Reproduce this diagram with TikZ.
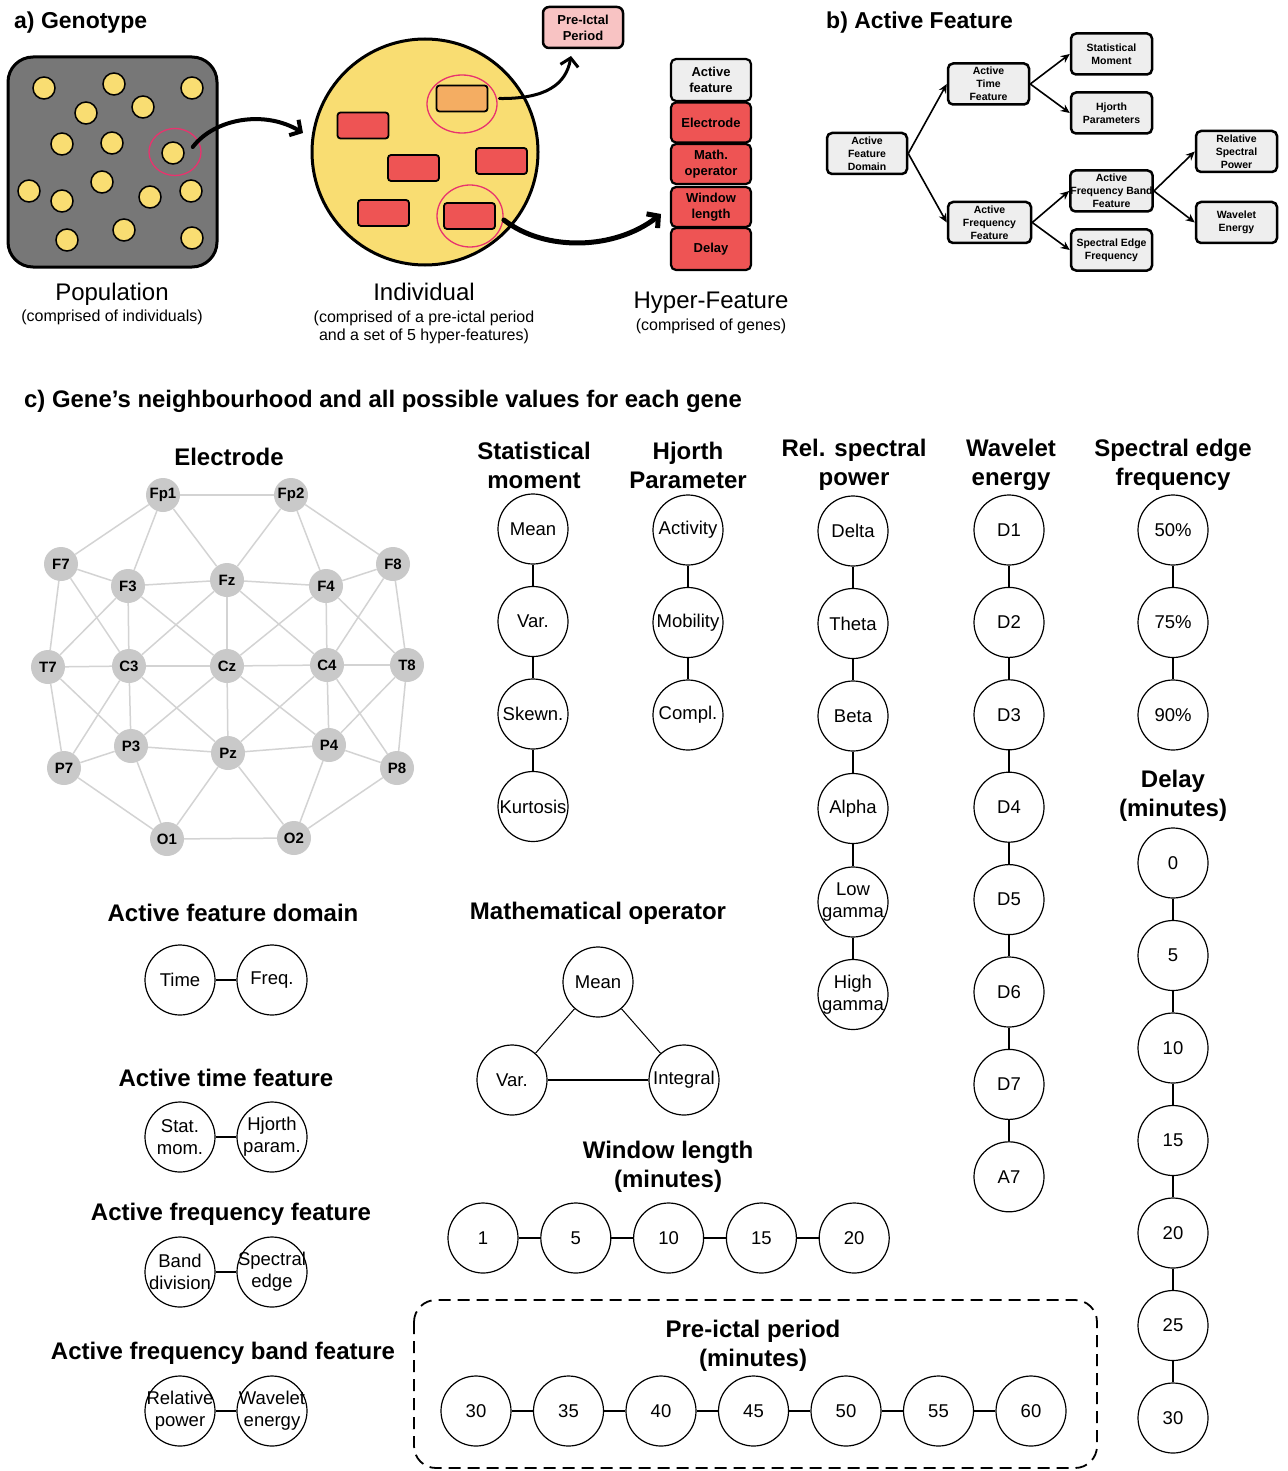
\documentclass[tikz,border=0pt]{standalone}
\usepackage{fontspec}
\setmainfont{Liberation Sans}
\usetikzlibrary{arrows.meta,shapes.geometric}
\definecolor{popgray}{HTML}{777777}
\definecolor{yel}{HTML}{F9DD72}
\definecolor{redbox}{HTML}{EE5454}
\definecolor{orbox}{HTML}{F4AD62}
\definecolor{ringc}{HTML}{E8336E}
\definecolor{pinkbox}{HTML}{F8C3C3}
\definecolor{lgray}{HTML}{EEEEEE}
\definecolor{egray}{HTML}{C9C9C9}
\definecolor{eline}{HTML}{D3D3D3}
\newcommand{\zw}[1]{\makebox[0pt]{#1}}
\begin{document}
\begin{tikzpicture}[x=1pt,y=-1pt,
  ttl/.style={font=\bfseries\fontsize{23}{28}\selectfont, anchor=west, inner sep=0pt},
  bigl/.style={font=\fontsize{24}{28}\selectfont, inner sep=0pt},
  smalll/.style={font=\fontsize{16}{18}\selectfont, inner sep=0pt, align=center},
  dot/.style={circle, draw, line width=1.5pt, fill=yel, minimum size=22pt, inner sep=0pt},
  rbox/.style={draw, line width=1.8pt, fill=redbox, rounded corners=3pt, minimum width=51pt, minimum height=26pt, inner sep=0pt},
  ringl/.style={ellipse, draw=ringc, line width=1.3pt, inner sep=0pt},
  hf/.style={draw, line width=2.2pt, fill=redbox, rounded corners=5pt, minimum width=80pt, minimum height=40pt, inner sep=0pt, align=center, font=\bfseries\fontsize{13}{16}\selectfont},
  fb/.style={draw, line width=2.5pt, fill=lgray, rounded corners=5pt, minimum width=81pt, minimum height=41pt, inner sep=0pt, align=center, font=\bfseries\fontsize{10.5}{13}\selectfont},
  farr/.style={line width=1.6pt, -{Stealth[length=9pt,width=8pt]}},
  bigarr/.style={line cap=round, -{Straight Barb[length=8pt,width=18pt]}},
  elec/.style={circle, fill=egray, minimum size=34pt, inner sep=0pt, font=\bfseries\fontsize{15}{15}\selectfont},
  eedge/.style={draw=eline, line width=1.5pt},
  val/.style={circle, draw, line width=1.2pt, minimum size=70pt, inner sep=0pt, align=center, font=\fontsize{18.5}{22}\selectfont},
  lk/.style={line width=2pt},
  hd/.style={font=\bfseries\fontsize{24}{29}\selectfont, align=center, inner sep=0pt}
]
\useasboundingbox (0,0) rectangle (1287,1471);

% ---------------- a) Genotype
\node[ttl] (ta) at (14,23) {a) Genotype};
\node[draw, line width=3pt, fill=popgray, rounded corners=25pt, minimum width=209pt, minimum height=210pt, inner sep=0pt] (pop) at (112.5,162) {};
\foreach \x/\y [count=\i] in {44/88,114/84,192/88,86/113,143/107,62/144,112/143,102/182,29/191,62/201,150/197,191/191,67/240,124/230,192/238}
  \node[dot] (d\i) at (\x,\y) {};
\node[dot] (sel) at (173,153) {};
\node[ringl, minimum width=52pt, minimum height=47pt] (ringP) at (175,152) {};
\node[bigl] (poplab) at (112,294) {Population};
\node[smalll] (popsub) at (112,317) {(comprised of individuals)};

\node[circle, draw, line width=3pt, fill=yel, minimum size=226pt, inner sep=0pt] (ind) at (425,152) {};
\node[rbox, fill=orbox] (rA) at (462,98.5) {};
\node[rbox] (rB) at (363,125.5) {};
\node[rbox] (rC) at (413.5,168) {};
\node[rbox] (rD) at (501.5,161) {};
\node[rbox] (rE) at (383.5,213) {};
\node[rbox] (rF) at (469.5,216) {};
\node[ringl, minimum width=70pt, minimum height=58pt] (ringA) at (462,104) {};
\node[ringl, minimum width=66pt, minimum height=62pt] (ringB) at (470,216) {};
\node[bigl] (indlab) at (424,292) {Individual};
\node[smalll] (indsub) at (424,327) {(comprised of a pre-ictal period\\and a set of 5 hyper-features)};

\node[draw, line width=2.5pt, fill=pinkbox, rounded corners=6pt, minimum width=80pt, minimum height=41pt, inner sep=0pt, align=center, font=\bfseries\fontsize{13}{16}\selectfont] (pre) at (583,27.5) {Pre-Ictal\\Period};

\node[hf, fill=lgray, minimum height=42pt] (hAct) at (711,80) {Active\\feature};
\node[hf] (hEl) at (711,122.5) {Electrode};
\node[hf] (hMa) at (711,164) {Math.\\operator};
\node[hf] (hWi) at (711,207) {Window\\length};
\node[hf, minimum height=42pt] (hDe) at (711,249) {Delay};
\node[bigl] (hflab) at (711,303) {Hyper-Feature};
\node[smalll] (hfsub) at (711,326) {(comprised of genes)};

\coordinate (e1) at (303,133);
\coordinate (e2) at (571,56);
\coordinate (e3) at (661,214);
\draw[bigarr, line width=4pt] ([xshift=8pt,yshift=6pt]sel.east) .. controls (215,118) and (265,110) .. (e1);
\draw[bigarr, line width=3pt] ([xshift=11pt]rA.east) .. controls (545,99) and (566,85) .. (e2);
\draw[bigarr, line width=5pt] ([xshift=8pt,yshift=-4pt]rF.east) .. controls (545,252) and (615,250) .. (e3);

% ---------------- b) Active Feature
\node[ttl] (tb) at (826,23) {b) Active Feature};
\node[fb, minimum width=80pt] (dom) at (867,153.5) {Active\\Feature\\Domain};
\node[fb] (tim) at (988.5,84) {Active\\Time\\Feature};
\node[fb, minimum width=83pt] (fre) at (989.5,222.5) {Active\\Frequency\\Feature};
\node[fb] (stm) at (1111.5,54) {Statistical\\Moment};
\node[fb] (hjp) at (1111.5,113) {Hjorth\\Parameters};
\node[fb] (afb) at (1111.5,191) {Active\\Frequency Band\\Feature};
\node[fb] (sef) at (1111.5,250) {Spectral Edge\\Frequency};
\node[fb] (rsp) at (1236.5,151.5) {Relative\\Spectral\\Power};
\node[fb] (wen) at (1236.5,222.5) {Wavelet\\Energy};
\draw[farr] (dom.east) -- (tim.west);
\draw[farr] (dom.east) -- (fre.west);
\draw[farr] (tim.east) -- (stm.west);
\draw[farr] (tim.east) -- (hjp.west);
\draw[farr] (fre.east) -- (afb.west);
\draw[farr] (fre.east) -- (sef.west);
\draw[farr] (afb.east) -- (rsp.west);
\draw[farr] (afb.east) -- (wen.west);

% ---------------- c)
\node[ttl, font=\bfseries\fontsize{23.9}{28}\selectfont] (tc) at (24,401) {c) Gene’s neighbourhood and all possible values for each gene};

% Electrode graph
\node[hd] (elt) at (229,457) {Electrode};
\foreach \n/\x/\y in {Fp1/163/495,Fp2/291/495,F7/61/564,F3/128/586,Fz/227/580,F4/326/586,F8/393/564,T7/48/667,C3/129/666,Cz/227/666,C4/327/665,T8/407/665,P3/131/746,Pz/228/753,P4/329/745,P7/64/768,P8/397/768,O1/167/839,O2/294/838}
  \node[elec] (e\n) at (\x,\y) {\n};
\foreach \a/\b in {Fp1/Fp2,Fp1/F7,Fp1/F3,Fp1/Fz,Fp2/Fz,Fp2/F4,Fp2/F8,F7/F3,F7/T7,F7/C3,F3/Fz,F3/T7,F3/C3,F3/Cz,Fz/F4,Fz/Cz,Fz/C3,Fz/C4,F4/F8,F4/Cz,F4/C4,F4/T8,F8/C4,F8/T8,T7/C3,T7/P7,T7/P3,C3/Cz,C3/P3,C3/P7,C3/Pz,Cz/C4,Cz/Pz,Cz/P3,Cz/P4,C4/T8,C4/P4,C4/Pz,C4/P8,T8/P4,T8/P8,P3/Pz,P3/P7,P3/O1,Pz/P4,Pz/O1,Pz/O2,P4/P8,P4/O2,P7/O1,P8/O2,O1/O2}
  \draw[eedge] (e\a) -- (e\b);

% Column headings
\node[hd] (hsm) at (534,465) {Statistical\\moment};
\node[hd] (hhj) at (688,465) {Hjorth\\Parameter};
\node[hd] (hrs) at (854,465) {Rel. spectral\\power};
\node[hd] (hwe) at (1011,465) {Wavelet\\energy};
\node[hd] (hse) at (1173,465) {Spectral edge\\frequency};

% Statistical moment
\node[val] (sm1) at (533,529) {Mean};
\node[val] (sm2) at (533,621.5) {Var.};
\node[val] (sm3) at (533,714) {Skewn.};
\node[val] (sm4) at (533,806.5) {\zw{Kurtosis}};
\foreach \i/\j in {1/2,2/3,3/4} \draw[lk] (sm\i) -- (sm\j);

% Hjorth
\node[val] (hj1) at (688,530) {\zw{Activity}};
\node[val] (hj2) at (688,622.5) {\zw{Mobility}};
\node[val] (hj3) at (688,715) {Compl.};
\foreach \i/\j in {1/2,2/3} \draw[lk] (hj\i) -- (hj\j);

% Rel spectral power
\node[val] (rs1) at (853,531) {Delta};
\node[val] (rs2) at (853,623.5) {Theta};
\node[val] (rs3) at (853,716) {Beta};
\node[val] (rs4) at (853,808.5) {Alpha};
\node[val] (rs5) at (853,902) {\zw{Low}\\\zw{gamma}};
\node[val] (rs6) at (853,994.5) {\zw{High}\\\zw{gamma}};
\foreach \i/\j in {1/2,2/3,3/4,4/5,5/6} \draw[lk] (rs\i) -- (rs\j);

% Wavelet energy
\foreach \t [count=\i] in {D1,D2,D3,D4,D5,D6,D7,A7}
  \node[val] (we\i) at (1009,{530+92.4*(\i-1)}) {\t};
\foreach \i/\j in {1/2,2/3,3/4,4/5,5/6,6/7,7/8} \draw[lk] (we\i) -- (we\j);

% Spectral edge
\node[val] (se1) at (1173,530) {50\%};
\node[val] (se2) at (1173,622.5) {75\%};
\node[val] (se3) at (1173,715) {90\%};
\foreach \i/\j in {1/2,2/3} \draw[lk] (se\i) -- (se\j);

% Delay
\node[hd] (hdl) at (1173,796) {Delay\\(minutes)};
\foreach \t [count=\i] in {0,5,10,15,20,25,30}
  \node[val] (dl\i) at (1173,{863+92.5*(\i-1)}) {\t};
\foreach \i/\j in {1/2,2/3,3/4,4/5,5/6,6/7} \draw[lk] (dl\i) -- (dl\j);

% Left-bottom pairs
\node[hd] (hafd) at (233,913) {Active feature domain};
\node[val] (afd1) at (180,980) {Time};
\node[val] (afd2) at (272,980) {Freq.};
\draw[lk] (afd1) -- (afd2);

\node[hd] (hatf) at (226,1078) {Active time feature};
\node[val] (atf1) at (180,1137) {\zw{Stat.}\\\zw{mom.}};
\node[val] (atf2) at (272,1137) {\zw{Hjorth}\\\zw{param.}};
\draw[lk] (atf1) -- (atf2);

\node[hd] (haff) at (231,1214) {Active frequency feature};
\node[val] (aff1) at (180,1272) {\zw{Band}\\\zw{division}};
\node[val] (aff2) at (272,1272) {\zw{Spectral}\\\zw{edge}};
\draw[lk] (aff1) -- (aff2);

\node[hd] (hafb) at (223,1353) {Active frequency band feature};
\node[val] (afbv1) at (180,1411) {\zw{Relative}\\\zw{power}};
\node[val] (afbv2) at (272,1411) {\zw{Wavelet}\\\zw{energy}};
\draw[lk] (afbv1) -- (afbv2);

% Mathematical operator
\node[hd] (hmo) at (598,913) {Mathematical operator};
\node[val] (mo1) at (598,982) {Mean};
\node[val] (mo2) at (512,1080) {Var.};
\node[val] (mo3) at (684,1080) {\zw{Integral}};
\draw[line width=1pt] (mo1) -- (mo2);
\draw[line width=1pt] (mo1) -- (mo3);
\draw[lk] (mo2) -- (mo3);

% Window length
\node[hd] (hwl) at (668,1167) {Window length\\(minutes)};
\foreach \t [count=\i] in {1,5,10,15,20}
  \node[val] (wl\i) at ({483+92.8*(\i-1)},1238) {\t};
\foreach \i/\j in {1/2,2/3,3/4,4/5} \draw[lk] (wl\i) -- (wl\j);

% Pre-ictal period
\draw[line width=1.8pt, dash pattern=on 12pt off 7pt, rounded corners=22pt] (414,1300) rectangle (1097,1468);
\node[hd] (hpp) at (753,1346) {Pre-ictal period\\(minutes)};
\foreach \t [count=\i] in {30,35,40,45,50,55,60}
  \node[val] (pp\i) at ({476+92.5*(\i-1)},1411) {\t};
\foreach \i/\j in {1/2,2/3,3/4,4/5,5/6,6/7} \draw[lk] (pp\i) -- (pp\j);
\end{tikzpicture}
\end{document}
